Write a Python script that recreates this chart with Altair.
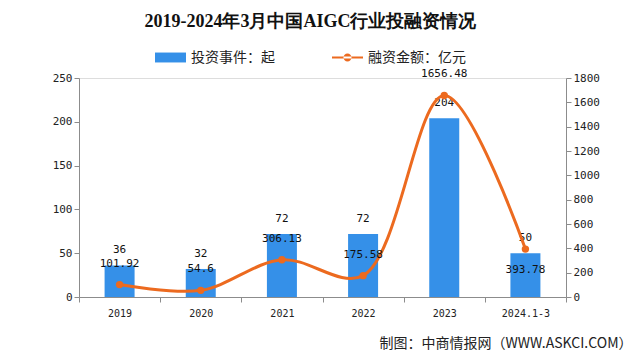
import altair as alt
import pandas as pd

categories = ["2019", "2020", "2021", "2022", "2023", "2024.1-3"]
events = [36, 32, 72, 72, 204, 50]
amounts = [101.92, 54.6, 306.13, 175.58, 1656.48, 393.78]
amount_labels = ["101.92", "54.6", "306.13", "175.58", "1656.48", "393.78"]

bar_name = "投资事件：起"
line_name = "融资金额：亿元"
title_text = "2019-2024年3月中国AIGC行业投融资情况"
source_text = "制图：中商情报网（WWW.ASKCI.COM）"

BLUE = "#3590E8"
ORANGE = "#EC6A1F"
AXIS_GRAY = "#8C8C8C"
NUM_FONT = "DejaVu Sans Mono"
CJK_FONT = "Noto Sans CJK SC"

df = pd.DataFrame({
    "cat": categories,
    "events": events,
    "amount": amounts,
    "amount_label": amount_labels,
    "bar_series": [bar_name] * len(categories),
    "line_series": [line_name] * len(categories),
})

x_enc = alt.X(
    "cat:N",
    sort=categories,
    scale=alt.Scale(paddingInner=0, paddingOuter=0),
    axis=alt.Axis(
        title=source_text,
        titleFont=CJK_FONT,
        titleFontSize=14,
        titleFontWeight="normal",
        titleColor="#222222",
        titleAnchor="end",
        titleAlign="right",
        titleBaseline="middle",
        titleX=553,
        titleY=46,
        labelAngle=0,
        labelFont=NUM_FONT,
        labelFontSize=10,
        labelColor="#222222",
        labelPadding=6,
        tickBand="extent",
        tickSize=5,
        tickColor=AXIS_GRAY,
        domainColor=AXIS_GRAY,
    ),
)

bar_legend = alt.Legend(
    title=None,
    orient="none",
    legendX=76,
    legendY=-36,
    symbolType="M-1,-0.32H1V0.32H-1Z",
    symbolSize=961,
    symbolStrokeWidth=0,
    labelFont=CJK_FONT,
    labelFontSize=14,
    labelColor="#222222",
    labelOffset=5,
)

line_legend = alt.Legend(
    title=None,
    orient="none",
    legendX=253,
    legendY=-36,
    symbolType="M-1,-0.07H1V0.07H-1Z M-0.26,0 A0.26,0.26 0 1,0 0.26,0 A0.26,0.26 0 1,0 -0.26,0 Z",
    symbolSize=961,
    symbolStrokeWidth=0,
    symbolFillColor=ORANGE,
    symbolOpacity=1,
    labelFont=CJK_FONT,
    labelFontSize=14,
    labelColor="#222222",
    labelOffset=5,
)

y_left = alt.Y(
    "events:Q",
    scale=alt.Scale(domain=[0, 250]),
    axis=alt.Axis(
        title=None,
        values=[0, 50, 100, 150, 200, 250],
        format="d",
        grid=False,
        labelOverlap=False,
        labelFont=NUM_FONT,
        labelFontSize=11,
        labelColor="#222222",
        tickSize=5,
        tickColor=AXIS_GRAY,
        domainColor=AXIS_GRAY,
    ),
)

y_right = alt.Y(
    "amount:Q",
    scale=alt.Scale(domain=[0, 1800]),
    axis=alt.Axis(
        title=None,
        orient="right",
        values=list(range(0, 1801, 200)),
        format="d",
        grid=False,
        labelOverlap=False,
        labelFont=NUM_FONT,
        labelFontSize=11,
        labelColor="#222222",
        tickSize=5,
        tickColor=AXIS_GRAY,
        domainColor=AXIS_GRAY,
    ),
)

x_plain = alt.X("cat:N", sort=categories)

base = alt.Chart(df)

bars = base.mark_bar(size=30).encode(
    x=x_enc,
    y=y_left,
    color=alt.Color("bar_series:N", scale=alt.Scale(range=[BLUE]), legend=bar_legend),
)
bar_text = base.mark_text(dy=-15, font=NUM_FONT, fontSize=11, color="#111111").encode(
    x=x_plain,
    y=y_left,
    text=alt.Text("events:Q"),
)
left_layer = alt.layer(bars, bar_text)

line = base.mark_line(interpolate="catmull-rom", strokeWidth=3).encode(
    x=x_plain,
    y=y_right,
    color=alt.Color("line_series:N", scale=alt.Scale(range=[ORANGE]), legend=line_legend),
)
pts = base.mark_circle(size=55, opacity=1, color=ORANGE).encode(
    x=x_plain,
    y=y_right,
)
line_text_above = base.transform_filter(
    alt.datum.cat != categories[-1]
).mark_text(dy=-21, font=NUM_FONT, fontSize=11, color="#111111").encode(
    x=x_plain,
    y=y_right,
    text="amount_label:N",
)
line_text_below = base.transform_filter(
    alt.datum.cat == categories[-1]
).mark_text(dy=21, font=NUM_FONT, fontSize=11, color="#111111").encode(
    x=x_plain,
    y=y_right,
    text="amount_label:N",
)
right_layer = alt.layer(line, pts, line_text_above, line_text_below)

chart = alt.layer(left_layer, right_layer).resolve_scale(
    y="independent", color="independent"
).properties(
    width=487,
    height=219,
    autosize=alt.AutoSizeParams(type="none"),
    padding={"left": 71, "top": 70, "right": 66, "bottom": 55},
    title=alt.TitleParams(
        text=title_text,
        font="Liberation Serif",
        fontSize=18,
        fontWeight="bold",
        color="#111111",
        anchor="middle",
        dx=-12,
        dy=10,
        offset=21,
    ),
).configure_view(stroke=None).configure(background="white")

chart.save("out.html", embed_options={"renderer": "svg", "actions": False})
